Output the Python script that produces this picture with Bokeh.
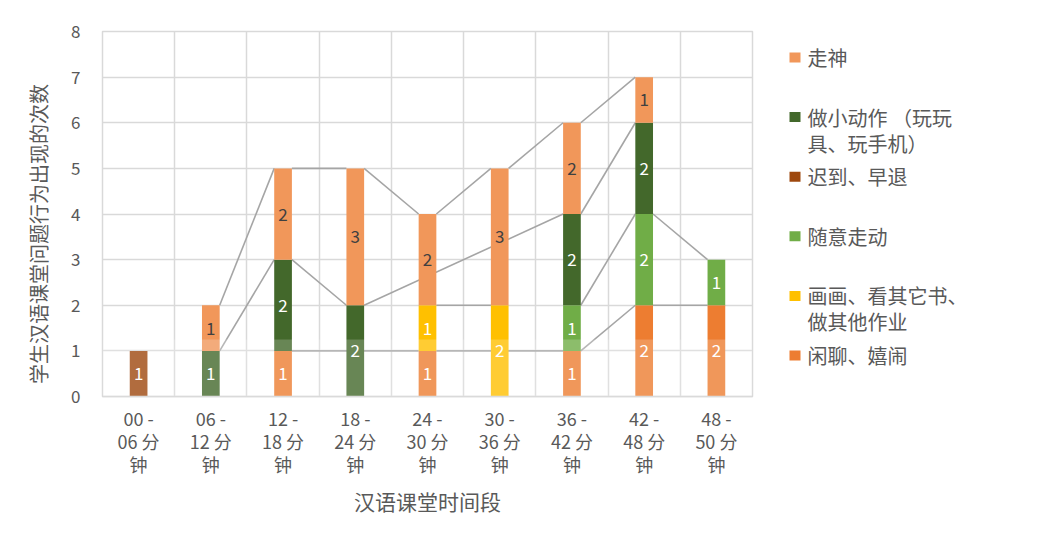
import numpy as np
from bokeh.plotting import figure
from bokeh.layouts import row
from bokeh.models import Range1d, FixedTicker, BoxAnnotation
from bokeh.core.properties import value
from bokeh.embed import file_html
from bokeh.resources import INLINE

FONT = "Noto Sans CJK SC"

# ---------------- data ----------------
categories = ["00 -\n06 分\n钟", "06 -\n12 分\n钟", "12 -\n18 分\n钟", "18 -\n24 分\n钟",
              "24 -\n30 分\n钟", "30 -\n36 分\n钟", "36 -\n42 分\n钟", "42 -\n48 分\n钟",
              "48 -\n50 分\n钟"]

# stack order bottom -> top (None = blank cell)
series_names = ["闲聊、嬉闹", "画画、看其它书、\n做其他作业", "随意走动", "迟到、早退",
                "做小动作 （玩玩\n具、玩手机）", "走神"]
chat     = [None, None, 1, None, 1, None, 1, 2, 2]
drawing  = [None, None, None, None, 1, 2, None, None, None]
walking  = [None, None, None, None, None, None, 1, 2, 1]
late     = [1, None, None, None, None, None, None, None, None]
fidget   = [None, 1, 2, 2, None, None, 2, 2, None]
zoneout  = [None, 1, 2, 3, 2, 3, 2, 1, None]
series_values = [chat, drawing, walking, late, fidget, zoneout]

series_colors = ["#ED7D31", "#FFC000", "#70AD47", "#9E480E", "#43682B", "#F1975A"]
label_colors = ["white", "white", "white", "white", "white", "#404040"]

y_ticks = [0, 1, 2, 3, 4, 5, 6, 7, 8]

GRID = "#D9D9D9"
TXT = "#595959"
BAR_W = 0.245

# ---------------- main chart ----------------
MW, MH = 778, 531
FT, FB = 31, 396          # frame top / bottom in pixels
p = figure(width=MW, height=MH, output_backend="svg", toolbar_location=None,
           x_range=Range1d(-0.5, len(categories) - 0.5), y_range=Range1d(0, 8),
           min_border_left=102, min_border_right=26, min_border_top=FT,
           min_border_bottom=MH - FB)
p.background_fill_color = "white"
p.border_fill_color = "white"
p.outline_line_color = GRID
p.outline_line_width = 1.5

xs = np.arange(len(categories), dtype=float)
vals = [np.array([np.nan if v is None else v for v in s], dtype=float) for s in series_values]
stack_vals = [np.nan_to_num(v) for v in vals]
cum = np.cumsum(np.vstack(stack_vals), axis=0)
bottoms = cum - np.vstack(stack_vals)

# series lines (behind bars), connecting consecutive non-blank points
for k, v in enumerate(vals):
    idx = [i for i in range(len(v)) if not np.isnan(v[i])]
    x0s, y0s, x1s, y1s = [], [], [], []
    for a, b in zip(idx[:-1], idx[1:]):
        x0s.append(xs[a] + BAR_W / 2); y0s.append(cum[k][a])
        x1s.append(xs[b] - BAR_W / 2); y1s.append(cum[k][b])
    if x0s:
        p.segment(x0=x0s, y0=y0s, x1=x1s, y1=y1s, line_color="#A5A5A5", line_width=1.6)

for k, v in enumerate(vals):
    m = ~np.isnan(v)
    p.vbar(x=xs[m], bottom=bottoms[k][m], top=cum[k][m], width=BAR_W,
           fill_color=series_colors[k], line_color=None)
    p.text(x=xs[m], y=(bottoms[k][m] + cum[k][m]) / 2,
           text=[str(int(t)) for t in v[m]],
           text_align="center", text_baseline="middle", text_font=value(FONT),
           text_font_size="17px", text_color=label_colors[k])

# faded band from the scanned watermark
p.add_layout(BoxAnnotation(bottom=0, top=1.25, fill_color="white", fill_alpha=0.2,
                           line_color=None))

p.xgrid.ticker = FixedTicker(ticks=list(np.arange(-0.5, len(categories), 1.0)))
p.xgrid.grid_line_color = GRID
p.xgrid.grid_line_width = 1.5
p.ygrid.ticker = FixedTicker(ticks=y_ticks)
p.ygrid.grid_line_color = GRID
p.ygrid.grid_line_width = 1.5

p.xaxis.ticker = FixedTicker(ticks=list(range(len(categories))))
p.xaxis.major_label_overrides = {i: c for i, c in enumerate(categories)}
p.xaxis.axis_line_color = GRID
p.xaxis.axis_line_width = 1.5
p.xaxis.major_tick_line_color = None
p.xaxis.minor_tick_line_color = None
p.xaxis.major_tick_out = 0
p.xaxis.major_label_standoff = 8
p.xaxis.major_label_text_font = FONT
p.xaxis.major_label_text_font_size = "18px"
p.xaxis.major_label_text_color = TXT
p.xaxis.major_label_text_line_height = 0.9
p.xaxis.axis_label = "汉语课堂时间段"
p.xaxis.axis_label_text_font = FONT
p.xaxis.axis_label_text_font_size = "21px"
p.xaxis.axis_label_text_font_style = "normal"
p.xaxis.axis_label_text_color = TXT
p.xaxis.axis_label_standoff = 6

p.yaxis.ticker = FixedTicker(ticks=y_ticks)
p.yaxis.axis_line_color = None
p.yaxis.major_tick_line_color = None
p.yaxis.minor_tick_line_color = None
p.yaxis.major_tick_out = 0
p.yaxis.major_label_standoff = 22
p.yaxis.major_label_text_font = FONT
p.yaxis.major_label_text_font_size = "17px"
p.yaxis.major_label_text_color = TXT
p.yaxis.axis_label = "学生汉语课堂问题行为出现的次数\u3000\u3000"
p.yaxis.axis_label_text_font = FONT
p.yaxis.axis_label_text_font_size = "20px"
p.yaxis.axis_label_text_font_style = "normal"
p.yaxis.axis_label_text_color = TXT
p.yaxis.axis_label_standoff = 15

# ---------------- legend panel ----------------
# its frame is aligned with the main frame; data units are page pixels
LW, LH = 250, MH
lg = figure(width=LW, height=LH, output_backend="svg", toolbar_location=None,
            x_range=Range1d(0, LW), y_range=Range1d(FB, FT),
            x_axis_type=None, y_axis_type=None, min_border_left=0, min_border_right=0,
            min_border_top=FT, min_border_bottom=MH - FB)
lg.title = None
lg.grid.visible = False
lg.outline_line_color = None
lg.border_fill_color = "white"
lg.background_fill_color = "white"

order = list(range(len(series_names)))[::-1]
row_start, row_step, line_step = 57.0, 59.6, 26.0
sq_x, sq_y, txt_x, txt_y = [], [], [], []
sq_c, txt = [], []
for r, k in enumerate(order):
    y0 = row_start + r * row_step
    sq_x.append(16.5); sq_y.append(y0); sq_c.append(series_colors[k])
    for j, line in enumerate(series_names[k].split("\n")):
        txt_x.append(29); txt_y.append(y0 + j * line_step); txt.append(line)
lg.rect(x=sq_x, y=sq_y, width=11, height=10, fill_color=sq_c, line_color=None)
lg.text(x=txt_x, y=txt_y, text=txt, text_align="left", text_baseline="middle",
        text_font=value(FONT), text_font_size="20px", text_color=TXT)

layout = row(p, lg)
open("out.html", "w").write(file_html(layout, INLINE))
